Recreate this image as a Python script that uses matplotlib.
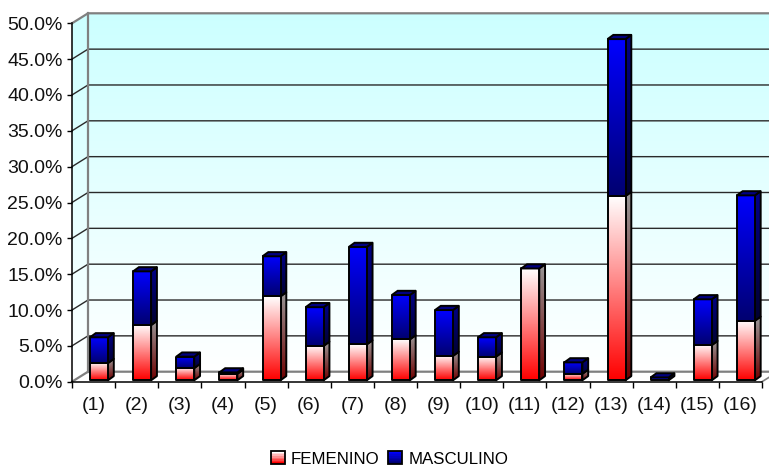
import numpy as np
import matplotlib
matplotlib.use("Agg")
import matplotlib.pyplot as plt
from matplotlib.patches import Polygon, Rectangle, Patch
from matplotlib.legend_handler import HandlerBase
from matplotlib.colors import LinearSegmentedColormap

plt.rcParams['font.family'] = ['Liberation Sans', 'DejaVu Sans']

categories = ['(1)', '(2)', '(3)', '(4)', '(5)', '(6)', '(7)', '(8)',
              '(9)', '(10)', '(11)', '(12)', '(13)', '(14)', '(15)', '(16)']
femenino = [2.4, 7.7, 1.7, 0.9, 11.7, 4.8, 5.0, 5.7, 3.4, 3.3, 15.6, 0.9, 25.7, 0.0, 4.9, 8.3]
masculino = [3.6, 7.5, 1.6, 0.2, 5.6, 5.4, 13.6, 6.2, 6.4, 2.7, 0.0, 1.6, 21.9, 0.4, 6.4, 17.5]
y_ticks = [0, 5, 10, 15, 20, 25, 30, 35, 40, 45, 50]

W, H = 769, 467
X0, X1, Y0, Y1 = 72.0, 762.0, 381.7, 23.3
fig = plt.figure(figsize=(W / 100, H / 100), dpi=100)
ax = fig.add_axes([X0 / W, 1 - Y0 / H, (X1 - X0) / W, (Y0 - Y1) / H])

px_x = 16 / (X1 - X0)
px_y = 50 / (Y0 - Y1)
DX, DY = 16 * px_x, 10 * px_y          # wall depth
BDX, BDY = 5.8 * px_x, 4.2 * px_y      # bar depth
BW = 18 * px_x
BOFF = 18 * px_x
BASE = 1.4 * px_y
LW = 1.4

def grad(stops):
    return LinearSegmentedColormap.from_list('g', stops)

def gradient_poly(pts, stops, z, edge=True):
    pts = np.array(pts)
    g = np.linspace(0, 1, 128).reshape(-1, 1)
    ext = [pts[:, 0].min(), pts[:, 0].max(), pts[:, 1].min(), pts[:, 1].max()]
    im = ax.imshow(g, cmap=grad(stops), origin='upper', extent=ext, aspect='auto',
                   zorder=z, interpolation='bilinear')
    poly = Polygon(pts, closed=True, transform=ax.transData, facecolor='none',
                   edgecolor='black' if edge else 'none', linewidth=LW,
                   zorder=z + 0.01, clip_on=False, joinstyle='round')
    ax.add_patch(poly)
    im.set_clip_box(fig.bbox)
    im.set_clip_path(poly)

# back wall and side wall
WALL = ['#CCFFFF', '#FFFFFF']
gradient_poly([(DX, DY), (16 + DX, DY), (16 + DX, 50 + DY), (DX, 50 + DY)], WALL, 1, edge=False)
gradient_poly([(0, 0), (DX, DY), (DX, 50 + DY), (0, 50)], WALL, 1, edge=False)

# gridlines on both walls
for v in y_ticks:
    col = '#808080' if v in (0, 50) else '#2a2a2a'
    ax.plot([0, DX, 16 + DX], [v, v + DY, v + DY], color=col,
            lw=1.0 if v not in (0, 50) else 1.6, zorder=2, clip_on=False,
            solid_joinstyle='miter')
ax.plot([DX, DX], [DY, 50 + DY], color='#808080', lw=1.6, zorder=2, clip_on=False)

RED = ['#FFFFFF', '#FF0000']
BLUE = ['#0000FF', '#000070']
RED_SIDE = ['#989898', '#700000']
BLUE_SIDE = ['#000088', '#000030']

for i, (f, m) in enumerate(zip(femenino, masculino)):
    x = i + BOFF
    z = 3 + i
    y = BASE
    if f > 0:
        gradient_poly([(x + BW, y), (x + BW + BDX, y + BDY), (x + BW + BDX, y + f + BDY), (x + BW, y + f)],
                      RED_SIDE, z)
        gradient_poly([(x, y), (x + BW, y), (x + BW, y + f), (x, y + f)], RED, z + 0.1)
    y += f
    if m > 0:
        gradient_poly([(x + BW, y), (x + BW + BDX, y + BDY), (x + BW + BDX, y + m + BDY), (x + BW, y + m)],
                      BLUE_SIDE, z + 0.2)
        gradient_poly([(x, y), (x + BW, y), (x + BW, y + m), (x, y + m)], BLUE, z + 0.3)
    y += m
    ax.add_patch(Polygon([(x, y), (x + BW, y), (x + BW + BDX, y + BDY), (x + BDX, y + BDY)],
                         closed=True, facecolor='#000080', edgecolor='black', linewidth=LW,
                         zorder=z + 0.4, clip_on=False))

ax.set_xlim(0, 16)
ax.set_ylim(0, 50)
ax.patch.set_visible(False)
for s in ('top', 'right'):
    ax.spines[s].set_visible(False)
for s in ('left', 'bottom'):
    ax.spines[s].set_linewidth(1.1)
    ax.spines[s].set_zorder(30)
ax.set_yticks(y_ticks)
ax.set_yticklabels([f'{v:.1f}%' for v in y_ticks], fontsize=14, color='#111111')
ax.tick_params(axis='y', length=3.6, width=1.0, pad=3)
ax.set_xticks(np.arange(0, 17))
ax.set_xticklabels([])
ax.set_xticks(np.arange(16) + 0.5, minor=True)
ax.set_xticklabels(categories, minor=True, fontsize=14, color='#111111')
ax.tick_params(axis='x', which='major', length=4, width=1.0)
ax.tick_params(axis='x', which='minor', length=0, pad=11)
ax.plot([16, 16 + DX], [0, DY], color='#808080', lw=1.2, zorder=2, clip_on=False)


class GradientHandler(HandlerBase):
    def __init__(self, stops):
        super().__init__()
        self.stops = stops

    def create_artists(self, legend, orig, xd, yd, width, height, fontsize, trans):
        cm = grad(self.stops)
        n = 8
        arts = []
        for k in range(n):
            arts.append(Rectangle((-xd, -yd + height * (n - 1 - k) / n), width, height / n,
                                  facecolor=cm(k / (n - 1)), edgecolor='none', transform=trans))
        arts.append(Rectangle((-xd, -yd), width, height, facecolor='none', edgecolor='black',
                              linewidth=1.3, transform=trans))
        return arts


h1, h2 = Patch(label='FEMENINO'), Patch(label='MASCULINO')
fig.legend(handles=[h1, h2], loc='lower center', bbox_to_anchor=(389.5 / W, 1 - 466.5 / H), ncol=2,
           frameon=False, fontsize=12.2, handlelength=0.84, handleheight=0.78,
           handletextpad=0.36, columnspacing=0.5, borderpad=0, borderaxespad=0, labelspacing=0,
           handler_map={h1: GradientHandler(RED), h2: GradientHandler(BLUE)})

fig.savefig('out.png', dpi=100)
